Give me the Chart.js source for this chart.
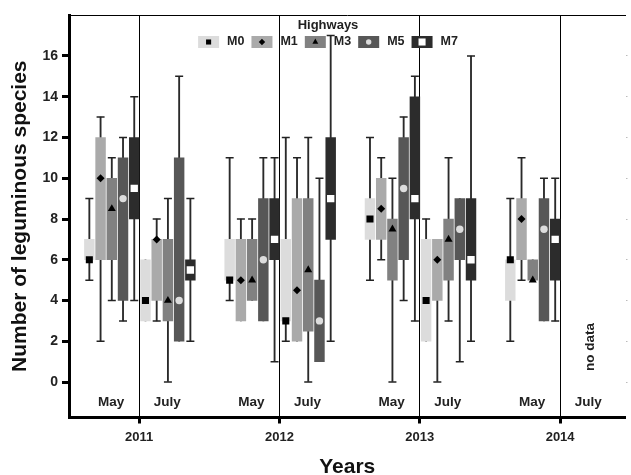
<!DOCTYPE html>
<html lang="en">
<head>
  <meta charset="UTF-8">
  <title>Leguminous species along highways</title>
  <script src="https://cdn.jsdelivr.net/npm/chart.js"></script>
  <style>
    html, body { margin: 0; padding: 0; background: #fff; }
    #chart { display: block; }
  </style>
</head>
<body>
  <canvas id="chart" width="631" height="475"></canvas>

  <script>
    const FONT = '"Liberation Sans", Arial, Helvetica, sans-serif';

    const years = [2011, 2012, 2013, 2014];
    const months = ['May', 'July'];
    const highways = ['M0', 'M1', 'M3', 'M5', 'M7'];
    const yTicks = [0, 2, 4, 6, 8, 10, 12, 14, 16];

    // one row per survey: 2011 May, 2011 July, 2012 May, 2012 July,
    // 2013 May, 2013 July, 2014 May, 2014 July (no data)
    // row = [min, q1, q3, max, marker]
    const m0 = [[5, 6, 7, 9, 6], [3, 3, 6, 6, 4], [4, 5, 7, 11, 5], [2, 3, 7, 12, 3],
                [5, 7, 9, 12, 8], [2, 2, 7, 8, 4], [2, 4, 6, 9, 6], null];
    const m1 = [[2, 6, 12, 13, 10], [3, 4, 7, 8, 7], [3, 3, 7, 8, 5], [2, 2, 9, 11, 4.5],
                [6, 7, 10, 11, 8.5], [0, 4, 7, 7, 6], [5, 6, 9, 11, 8], null];
    const m3 = [[4, 6, 10, 11, 8.5], [0, 3, 7, 9, 4], [4, 4, 7, 8, 5], [0, 2.5, 9, 12, 5.5],
                [0, 5, 8, 10, 7.5], [3, 5, 8, 11, 7], [5, 5, 6, 6, 5], null];
    const m5 = [[3, 4, 11, 12, 9], [2, 2, 11, 15, 4], [3, 3, 9, 11, 6], [1, 1, 5, 10, 3],
                [4, 6, 12, 13, 9.5], [1, 6, 9, 9, 7.5], [3, 3, 9, 10, 7.5], null];
    const m7 = [[4, 8, 12, 14, 9.5], [2, 5, 6, 9, 5.5], [1, 6, 9, 11, 7], [2, 7, 12, 17, 9],
                [3, 8, 14, 15, 9], [2, 5, 9, 16, 6], [3, 5, 8, 10, 7], null];
    const series = [m0, m1, m3, m5, m7];

    const boxColors = ['#dcdcdc', '#aaaaaa', '#818181', '#575757', '#2c2c2c'];
    const markerShapes = ['rect', 'rectRot', 'triangle', 'circle', 'rect'];
    const markerColors = ['#000', '#000', '#000', '#dddddd', '#fff'];
    const markerSizes = [5, 4, 4.6, 3.7, 5.2];
    const legendMarkerSizes = [3.6, 3.2, 3.4, 2.7, 5];

    const surveys = years.flatMap(yr => months.map(mo => ({ year: yr, month: mo })));

    // May boxes sit just left of the year line, July boxes just right of it
    function slotX(s, h) {
      return s.year + (s.month === 'May' ? -0.355 : 0.045) + h * 0.08;
    }

    const datasets = [];
    series.forEach((rows, h) => {
      const pts = [];
      rows.forEach((r, i) => { if (r) pts.push({ x: slotX(surveys[i], h), r: r }); });

      const caps = [];
      pts.forEach(p => {
        if (p.r[3] > p.r[2]) caps.push({ x: p.x, y: p.r[3] });
        if (p.r[0] < p.r[1]) caps.push({ x: p.x, y: p.r[0] });
      });

      datasets.push({
        type: 'bar',
        label: highways[h] + ' range',
        data: pts.map(p => ({ x: p.x, y: [p.r[0], p.r[3]] })),
        backgroundColor: '#2a2a2a',
        barThickness: 1.2,
        grouped: false,
        order: 4
      });
      datasets.push({
        type: 'scatter',
        label: highways[h] + ' caps',
        data: caps,
        pointStyle: 'line',
        pointRadius: 4,
        pointBorderColor: '#222',
        pointBorderWidth: 1.5,
        order: 3
      });
      datasets.push({
        type: 'bar',
        label: highways[h],
        data: pts.map(p => ({ x: p.x, y: [p.r[1], p.r[2]] })),
        backgroundColor: boxColors[h],
        borderWidth: 0,
        barThickness: 9.8,
        grouped: false,
        order: 2
      });
      datasets.push({
        type: 'scatter',
        label: highways[h] + ' marker',
        data: pts.map(p => ({ x: p.x, y: p.r[4] })),
        pointStyle: markerShapes[h],
        pointRadius: markerSizes[h],
        pointBackgroundColor: markerColors[h],
        pointBorderWidth: 0,
        order: 1
      });
    });

    // May / July names along the bottom and the "no data" note
    const monthLabels = {
      id: 'monthLabels',
      afterDatasetsDraw(chart) {
        const { ctx, scales: { x, y } } = chart;
        ctx.save();
        ctx.font = `bold 13.5px ${FONT}`;
        ctx.fillStyle = '#222';
        ctx.textAlign = 'center';
        ctx.textBaseline = 'middle';
        surveys.forEach(s => {
          const px = x.getPixelForValue(s.year + (s.month === 'May' ? -0.2 : 0.2));
          ctx.fillText(s.month, px, y.getPixelForValue(-1));
        });
        ctx.translate(x.getPixelForValue(2014.215), y.getPixelForValue(1.72));
        ctx.rotate(-Math.PI / 2);
        ctx.fillText('no data', 0, 0);
        ctx.restore();
      }
    };

    // legend sits inside the plot, under the top border
    const highwayLegend = {
      id: 'highwayLegend',
      afterDraw(chart) {
        const { ctx, chartArea } = chart;
        const cx = chartArea.left + 259;
        ctx.save();
        ctx.textBaseline = 'middle';
        ctx.textAlign = 'center';
        ctx.fillStyle = '#222';
        ctx.font = `bold 13px ${FONT}`;
        ctx.fillText('Highways', cx, chartArea.top + 10);

        ctx.font = `bold 12.5px ${FONT}`;
        ctx.textAlign = 'left';
        const swW = 21, swH = 12, gapText = 8, gapItem = 7;
        const widths = highways.map(t => swW + gapText + ctx.measureText(t).width);
        const total = widths.reduce((a, b) => a + b, 0) + gapItem * (highways.length - 1);
        let x = cx - total / 2;
        const y = chartArea.top + 27;
        highways.forEach((name, h) => {
          ctx.fillStyle = boxColors[h];
          ctx.fillRect(x, y - swH / 2, swW, swH);
          ctx.fillStyle = markerColors[h];
          Chart.helpers.drawPoint(ctx, {
            pointStyle: markerShapes[h], radius: legendMarkerSizes[h], borderWidth: 0, rotation: 0
          }, x + swW / 2, y);
          ctx.fillStyle = '#222';
          ctx.fillText(name, x + swW + gapText, y);
          x += widths[h] + gapItem;
        });
        ctx.restore();
      }
    };

    const xMin = 2010.5, xMax = 2014.466;
    const yMin = -1.74, yMax = 18.01;

    Chart.defaults.font.family = FONT;

    new Chart(document.getElementById('chart'), {
      type: 'bar',
      data: { datasets: datasets },
      options: {
        responsive: false,
        animation: false,
        layout: { padding: 0 },
        plugins: {
          legend: { display: false },
          tooltip: { enabled: false }
        },
        scales: {
          x: {
            type: 'linear',
            min: xMin,
            max: xMax,
            offset: false,
            afterBuildTicks: ax => { ax.ticks = years.map(v => ({ value: v })); },
            afterFit: ax => { ax.height = 57.5; },
            ticks: {
              callback: v => String(v),
              font: { size: 13, weight: 'bold' },
              color: '#222',
              padding: 6,
              maxRotation: 0
            },
            grid: { offset: false, color: '#000', lineWidth: 1, tickLength: 6, tickWidth: 3, tickColor: '#000' },
            border: { width: 3, color: '#000' },
            title: {
              display: true,
              text: 'Years',
              font: { size: 21, weight: 'bold' },
              color: '#111',
              padding: { top: 0, bottom: -4.6 }
            }
          },
          x2: {
            type: 'linear',
            position: 'top',
            min: xMin,
            max: xMax,
            offset: false,
            afterFit: ax => { ax.height = 15; },
            ticks: { display: false },
            grid: { display: false },
            border: { display: true, width: 1, color: '#000' }
          },
          y: {
            type: 'linear',
            min: yMin,
            max: yMax,
            afterBuildTicks: ax => { ax.ticks = yTicks.map(v => ({ value: v })); },
            afterFit: ax => { ax.width = 69; },
            ticks: { font: { size: 14, weight: 'bold' }, color: '#222', padding: 4 },
            grid: { drawOnChartArea: false, tickLength: 7, tickWidth: 3, tickColor: '#000' },
            border: { width: 3, color: '#000' },
            title: {
              display: true,
              text: 'Number of leguminous species',
              font: { size: 21, weight: 'bold' },
              color: '#111',
              padding: { top: 8, bottom: 0 }
            }
          },
          y2: {
            type: 'linear',
            position: 'right',
            min: yMin,
            max: yMax,
            afterBuildTicks: ax => { ax.ticks = yTicks.map(v => ({ value: v })); },
            afterFit: ax => { ax.width = 2; },
            ticks: { display: false },
            grid: { drawOnChartArea: false, tickLength: 2, tickWidth: 1, tickColor: '#bbb' },
            border: { display: false }
          }
        }
      },
      plugins: [monthLabels, highwayLegend]
    });
  </script>
</body>
</html>
